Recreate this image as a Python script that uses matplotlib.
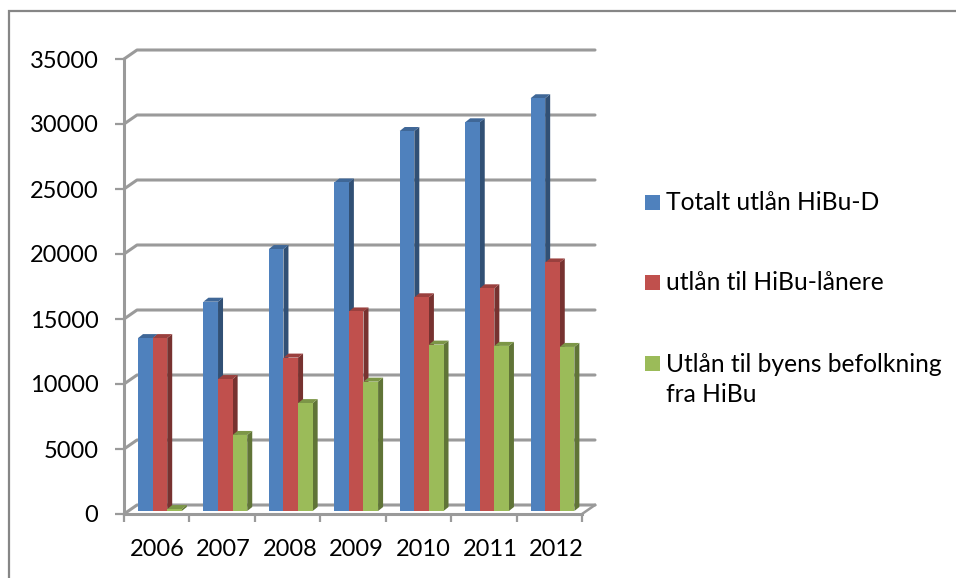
import matplotlib
matplotlib.use("Agg")
import matplotlib.pyplot as plt
from matplotlib.lines import Line2D
from matplotlib.patches import Polygon, Rectangle
from matplotlib.transforms import ScaledTranslation

years = ["2006", "2007", "2008", "2009", "2010", "2011", "2012"]
totalt = [13300, 16100, 20150, 25270, 29230, 29900, 31750]
hibu = [13300, 10150, 11800, 15350, 16440, 17130, 19120]
byen = [150, 5850, 8300, 9950, 12800, 12700, 12620]
yticks = [0, 5000, 10000, 15000, 20000, 25000, 30000, 35000]
labels = ["Totalt utlån HiBu-D", "utlån til HiBu-lånere", "Utlån til byens befolkning\nfra HiBu"]

W, H = 956, 578
plt.rcParams['font.family'] = ['Lato', 'DejaVu Sans']

# plot front plane in pixels
left, right, bottom, top = 124, 582, 514, 59
ppx = (right - left) / 7.0
ppy = (bottom - top) / 35000.0

fig = plt.figure(figsize=(W / 100, H / 100), dpi=100)
ax = fig.add_axes([left / W, 1 - bottom / H, (right - left) / W, (bottom - top) / H])
ax.set_xlim(0, 7)
ax.set_ylim(0, 35000)


def dx(px):
    return px / ppx


def dy(px):
    return px / ppy


GREY = "#9a9a9a"
# walls of the 3d box
for v in yticks:
    ax.plot([0, dx(13), 7 + dx(13)], [v, v + dy(9), v + dy(9)], color=GREY, lw=2.2,
            clip_on=False, solid_capstyle="round", zorder=1)
ax.plot([7, 7 + dx(13)], [0, dy(9)], color=GREY, lw=1.8, clip_on=False, zorder=1)


def shade(col, f):
    c = matplotlib.colors.to_rgb(col)
    return tuple(x * f for x in c)


def bar3d(x0, val, col, width):
    # the bar stands a little inside the floor
    y0 = dy(3)
    d_x, d_y = dx(5), dy(4)
    ax.add_patch(Polygon([(x0 + width, y0 + val), (x0 + width + d_x, y0 + val + d_y),
                          (x0 + width + d_x, y0 + d_y), (x0 + width, y0)],
                         fc=shade(col, 0.62), ec="none", clip_on=False, zorder=3))
    ax.add_patch(Polygon([(x0, y0 + val), (x0 + d_x, y0 + val + d_y),
                          (x0 + width + d_x, y0 + val + d_y), (x0 + width, y0 + val)],
                         fc=shade(col, 0.8), ec="none", clip_on=False, zorder=3))
    ax.bar(x0, val, width=width, bottom=y0, align="edge", color=col, clip_on=False, zorder=4)


colors = ["#4f81bd", "#c0504d", "#9bbb59"]
bw = dx(14.6)
start = dx(14)
for i in range(len(years)):
    bar3d(i + start, totalt[i], colors[0], bw)
    bar3d(i + start + bw, hibu[i], colors[1], bw)
    bar3d(i + start + 2 * bw, byen[i], colors[2], bw)

for s in ["top", "right"]:
    ax.spines[s].set_visible(False)
for s in ["left", "bottom"]:
    ax.spines[s].set_color(GREY)
    ax.spines[s].set_linewidth(2.2)
    ax.spines[s].set_zorder(2)

ax.set_yticks(yticks)
ax.set_yticklabels([str(v) for v in yticks], fontsize=17, color="black")
for t in ax.get_yticklabels():
    t.set_transform(t.get_transform() + ScaledTranslation(0, -1.5 / 100, fig.dpi_scale_trans))
ax.set_xticks(range(8))
ax.set_xticklabels([])
# year labels are spread a bit wider than the ticks in the original
for i, y in enumerate(years):
    ax.text(dx(33 + 66.6 * i), -42 / ppy, y, ha="center", va="baseline", fontsize=17, clip_on=False)
ax.tick_params(axis="y", length=6.5, width=1.6, color=GREY, pad=12)
ax.tick_params(axis="x", length=6, width=1.6, color=GREY)

# legend by hand, like the original
swatch_y = [195, 275, 356]
base_y = [210, 290, 402]
for sy, by, col, lab in zip(swatch_y, base_y, colors, labels):
    fig.add_artist(Rectangle((645 / W, 1 - (sy + 15) / H), 15 / W, 15 / H, fc=col, ec="none",
                             transform=fig.transFigure))
    fig.text(666 / W, 1 - by / H, lab, fontsize=17.7, va="baseline", linespacing=1.35)

# only the top and left edge of the frame show in the picture
fig.add_artist(Line2D([9 / W, 9 / W, 1], [0, 1 - 11 / H, 1 - 11 / H], color="#868686", lw=1.6,
                      solid_joinstyle="miter", transform=fig.transFigure))

fig.savefig("out.png", dpi=100)
